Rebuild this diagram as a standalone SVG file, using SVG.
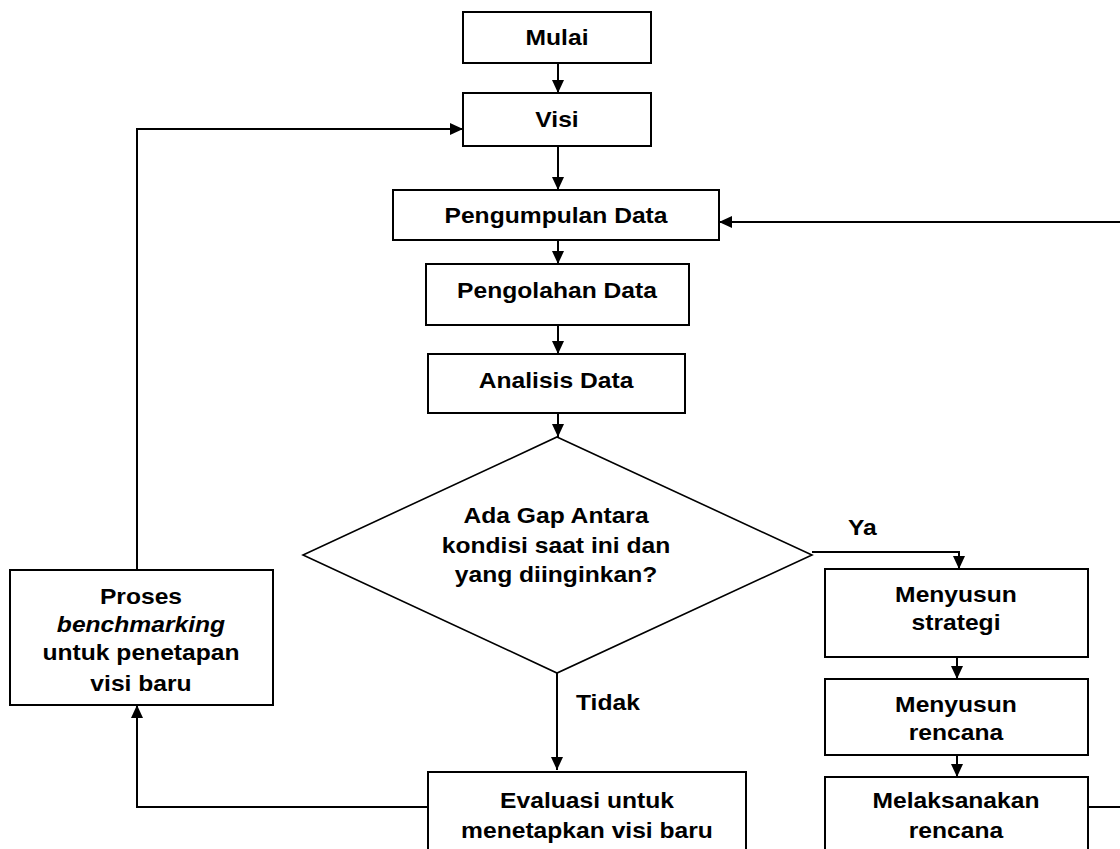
<svg xmlns="http://www.w3.org/2000/svg" width="1120" height="849" viewBox="0 0 1120 849">
<defs>
<style>
.box{fill:#fff;stroke:#000;stroke-width:2}
.dia{fill:#fff;stroke:#000;stroke-width:1.6}
.con{fill:none;stroke:#000;stroke-width:2}
text{font-family:"Liberation Sans",Arial,sans-serif;font-weight:bold;font-size:22px;fill:#000;text-anchor:middle}
.lbl{text-anchor:start}
.it{font-style:italic}
</style>
<marker id="ah" markerUnits="userSpaceOnUse" markerWidth="14" markerHeight="14" refX="13" refY="6" orient="auto">
<path d="M0,0 L13,6 L0,12 z" fill="#000"/>
</marker>
</defs>
<rect width="1120" height="849" fill="#fff"/>
<g id="connectors">
<path class="con" d="M558,63 V93" marker-end="url(#ah)"/>
<path class="con" d="M558,146 V190" marker-end="url(#ah)"/>
<path class="con" d="M558,240 V264" marker-end="url(#ah)"/>
<path class="con" d="M558,325 V354" marker-end="url(#ah)"/>
<path class="con" d="M558,413 V437" marker-end="url(#ah)"/>
<path class="con" d="M812,552 H959 V569" marker-end="url(#ah)"/>
<path class="con" d="M557,673 V770" marker-end="url(#ah)"/>
<path class="con" d="M957,657 V679" marker-end="url(#ah)"/>
<path class="con" d="M957,755 V777" marker-end="url(#ah)"/>
<path class="con" d="M1088,807 H1126 V222 H719" marker-end="url(#ah)"/>
<path class="con" d="M428,807 H137 V705" marker-end="url(#ah)"/>
<path class="con" d="M137,570 V129 H463" marker-end="url(#ah)"/>
</g>
<g id="mulai">
<rect class="box" x="463" y="12" width="188" height="51"/>
<text transform="translate(557,45) scale(1.12,1)">Mulai</text>
</g>
<g id="visi">
<rect class="box" x="463" y="93" width="188" height="53"/>
<text transform="translate(557,127) scale(1.12,1)">Visi</text>
</g>
<g id="pengumpulan">
<rect class="box" x="393" y="190" width="326" height="50"/>
<text transform="translate(556,223) scale(1.12,1)">Pengumpulan Data</text>
</g>
<g id="pengolahan">
<rect class="box" x="426" y="264" width="263" height="61"/>
<text transform="translate(557,298) scale(1.12,1)">Pengolahan Data</text>
</g>
<g id="analisis">
<rect class="box" x="428" y="354" width="257" height="59"/>
<text transform="translate(556,388) scale(1.12,1)">Analisis Data</text>
</g>
<g id="keputusan">
<polygon class="dia" points="557,437 812,555 557,673 303,555"/>
<text transform="translate(556,523) scale(1.12,1)">Ada Gap Antara</text>
<text transform="translate(556,553) scale(1.12,1)">kondisi saat ini dan</text>
<text transform="translate(556,582) scale(1.12,1)">yang diinginkan?</text>
</g>
<g id="label-ya">
<text class="lbl" transform="translate(848,535) scale(1.12,1)">Ya</text>
</g>
<g id="label-tidak">
<text class="lbl" transform="translate(576,710) scale(1.12,1)">Tidak</text>
</g>
<g id="proses">
<rect class="box" x="10" y="570" width="263" height="135"/>
<text transform="translate(141,604) scale(1.12,1)">Proses</text>
<text class="it" transform="translate(141,632) scale(1.12,1)">benchmarking</text>
<text transform="translate(141,660) scale(1.12,1)">untuk penetapan</text>
<text transform="translate(141,691) scale(1.12,1)">visi baru</text>
</g>
<g id="evaluasi">
<rect class="box" x="428" y="772" width="318" height="100"/>
<text transform="translate(587,808) scale(1.12,1)">Evaluasi untuk</text>
<text transform="translate(587,838) scale(1.12,1)">menetapkan visi baru</text>
</g>
<g id="strategi">
<rect class="box" x="825" y="569" width="263" height="88"/>
<text transform="translate(956,602) scale(1.12,1)">Menyusun</text>
<text transform="translate(956,630) scale(1.12,1)">strategi</text>
</g>
<g id="rencana">
<rect class="box" x="825" y="679" width="263" height="76"/>
<text transform="translate(956,712) scale(1.12,1)">Menyusun</text>
<text transform="translate(956,740) scale(1.12,1)">rencana</text>
</g>
<g id="melaksanakan">
<rect class="box" x="825" y="777" width="263" height="100"/>
<text transform="translate(956,808) scale(1.12,1)">Melaksanakan</text>
<text transform="translate(956,838) scale(1.12,1)">rencana</text>
</g>
</svg>
